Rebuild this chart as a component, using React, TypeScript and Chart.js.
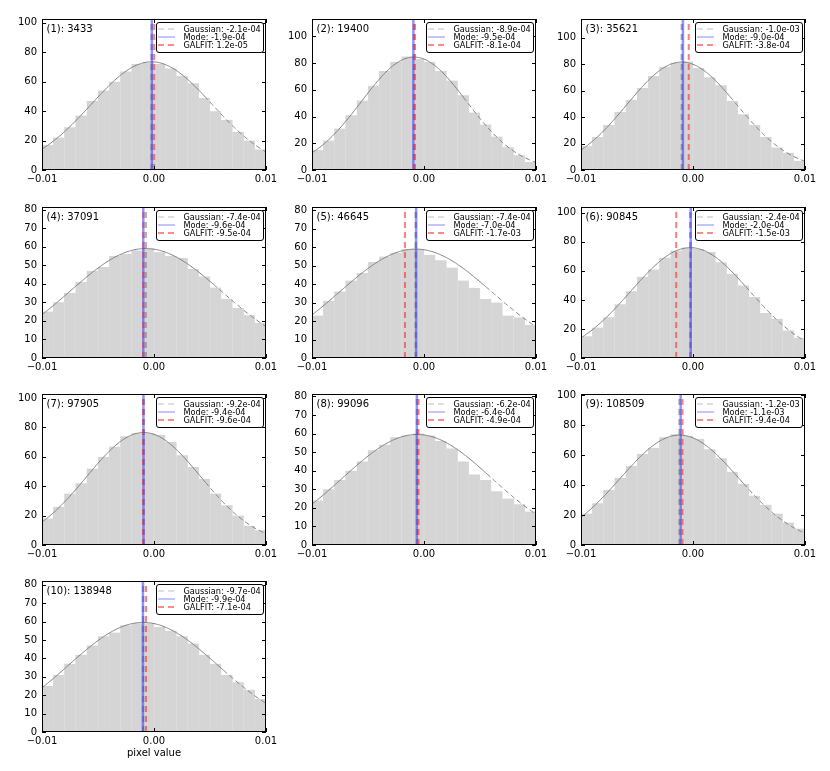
import { useEffect, useRef } from "react";
import { Chart, registerables } from "chart.js";

Chart.register(...registerables);

// Histogram bins (centres), identical in every panel
const BIN_CENTERS = [
  -0.0095, -0.0085, -0.0075, -0.0065, -0.0055, -0.0045, -0.0035, -0.0025, -0.0015, -0.0005,
  0.0005, 0.0015, 0.0025, 0.0035, 0.0045, 0.0055, 0.0065, 0.0075, 0.0085, 0.0095,
];

const PANEL_IDS = [3433, 19400, 35621, 37091, 46645, 90845, 97905, 99096, 108509, 138948];

// counts per bin
const COUNTS_1 = [17, 22, 29, 37, 47, 54, 60, 67, 72, 73, 72, 69, 64, 59, 49, 40, 34, 26, 20, 14];
const COUNTS_2 = [15, 22, 31, 41, 52, 63, 74, 81, 85, 83, 81, 74, 67, 56, 43, 34, 25, 17, 11, 6];
const COUNTS_3 = [18, 25, 34, 44, 53, 62, 71, 78, 81, 82, 77, 70, 64, 52, 42, 34, 25, 17, 13, 7];
const COUNTS_4 = [25, 30, 35, 41, 47, 49, 55, 56, 58, 59, 57, 55, 54, 48, 44, 38, 32, 27, 23, 19];
const COUNTS_5 = [23, 31, 36, 42, 46, 52, 55, 57, 59, 59, 56, 53, 49, 42, 38, 32, 30, 23, 22, 18];
const COUNTS_6 = [15, 21, 28, 37, 46, 56, 61, 69, 74, 76, 75, 73, 66, 58, 50, 42, 31, 27, 19, 14];
const COUNTS_7 = [18, 26, 35, 42, 52, 60, 67, 74, 76, 76, 75, 70, 61, 53, 45, 35, 27, 20, 13, 10];
const COUNTS_8 = [24, 30, 35, 40, 45, 51, 54, 58, 59, 60, 59, 56, 52, 45, 38, 35, 29, 25, 22, 18];
const COUNTS_9 = [21, 28, 37, 45, 53, 61, 65, 72, 74, 73, 71, 64, 58, 49, 41, 33, 27, 21, 15, 11];
const COUNTS_10 = [25, 31, 37, 42, 47, 52, 54, 58, 59, 59, 57, 55, 52, 48, 42, 37, 31, 27, 23, 18];
const COUNTS = [COUNTS_1, COUNTS_2, COUNTS_3, COUNTS_4, COUNTS_5, COUNTS_6, COUNTS_7, COUNTS_8, COUNTS_9, COUNTS_10];

// sky estimates shown in the legends
const GAUSS_MEAN = [-2.1e-4, -8.9e-4, -1.0e-3, -7.4e-4, -7.4e-4, -2.4e-4, -9.2e-4, -6.2e-4, -1.2e-3, -9.7e-4];
const MODE_VAL = [-1.9e-4, -9.5e-4, -9.0e-4, -9.6e-4, -7.0e-4, -2.0e-4, -9.4e-4, -6.4e-4, -1.1e-3, -9.9e-4];
const GALFIT_VAL = [1.2e-5, -8.1e-4, -3.8e-4, -9.5e-4, -1.7e-3, -1.5e-3, -9.6e-4, -4.9e-4, -9.4e-4, -7.1e-4];

// fitted gaussian model: peak height, width, upper edge of the fitted range
const GAUSS_PEAK = [73.5, 84.5, 81.5, 59, 59, 76, 76.5, 59.5, 73.5, 59.5];
const GAUSS_SIGMA = [0.0054, 0.0047, 0.0049, 0.0068, 0.0068, 0.0053, 0.0051, 0.00665, 0.0053, 0.0067];
const FIT_EDGE = [0.0045, 0.0035, 0.0033, 0.0053, 0.0055, 0.0047, 0.0046, 0.0056, 0.0045, 0.0062];

// axes
const X_TICKS = [-0.01, 0, 0.01];
const X_TICK_LABELS = ["\u22120.01", "0.00", "0.01"];
const Y_MAX = [102.6, 113, 114, 81.4, 81.8, 104, 102.7, 81.3, 101, 82];
const Y_STEP = [20, 20, 20, 10, 10, 20, 20, 10, 20, 10];
const Y_TICK_TOP = [100, 100, 100, 80, 80, 100, 100, 80, 100, 80];
const X_TITLE = "pixel value";

const FONT = "DejaVu Sans";
const COL_LEFT = [42, 312, 581];
const ROW_TOP = [16, 204, 391, 578];
const PLOT_W = 224;
const PLOT_H = 154;
const PAD_L = 40;
const PAD_T = 8;
const PAD_R = 16;

const STYLE = {
  gauss: { color: "rgba(128,128,128,0.6)", width: 2.5, dash: [6, 4] },
  mode: { color: "rgba(40,40,255,0.5)", width: 2.5, dash: [] as number[] },
  galfit: { color: "rgba(255,40,40,0.6)", width: 2, dash: [6, 4] },
};

const LEGEND_STYLE = [
  { name: "Gaussian", color: "rgba(128,128,128,0.5)", width: 1, dash: [6, 4] },
  { name: "Mode", color: "rgba(60,60,255,0.6)", width: 1, dash: [] as number[] },
  { name: "GALFIT", color: "rgba(255,60,60,0.6)", width: 2, dash: [6, 4] },
];

function sci(v: number) {
  const [m, e] = v.toExponential(1).split("e");
  const n = parseInt(e, 10);
  return `${m}e${n < 0 ? "-" : "+"}${String(Math.abs(n)).padStart(2, "0")}`;
}

function Panel({ idx }: { idx: number }) {
  const ref = useRef<HTMLCanvasElement | null>(null);
  const xH = idx === 9 ? 27 : 22;
  const W = PAD_L + PLOT_W + PAD_R;
  const H = PAD_T + PLOT_H + xH;

  useEffect(() => {
    if (!ref.current) return;
    const ctx = ref.current.getContext("2d");
    if (!ctx) return;

    const yMax = Y_MAX[idx];
    const gauss = (x: number) =>
      GAUSS_PEAK[idx] * Math.exp(-((x - GAUSS_MEAN[idx]) ** 2) / (2 * GAUSS_SIGMA[idx] ** 2));
    // model curve sampled along the axis
    const xs: number[] = [];
    for (let k = 0; k <= 200; k++) xs.push(-0.01 + k * 0.0001);
    const edge = FIT_EDGE[idx];
    const solid = xs.filter((x) => x < edge).map((x) => ({ x, y: gauss(x) }));
    solid.push({ x: edge, y: gauss(edge) });
    const dashed = [{ x: edge, y: gauss(edge) }, ...xs.filter((x) => x > edge).map((x) => ({ x, y: gauss(x) }))];

    const vline = (v: number, s: { color: string; width: number; dash: number[] }, order: number) => ({
      type: "line" as const,
      data: [
        { x: v, y: 0 },
        { x: v, y: yMax },
      ],
      borderColor: s.color,
      borderWidth: s.width,
      borderDash: s.dash,
      pointRadius: 0,
      order,
    });

    const legendValues = [GAUSS_MEAN[idx], MODE_VAL[idx], GALFIT_VAL[idx]];

    const decor = {
      id: "decor",
      afterDraw(c: Chart) {
        const g = c.ctx;
        const a = c.chartArea;
        const xs_ = c.scales.x;
        const ys_ = c.scales.y;
        g.save();
        g.strokeStyle = "#000";
        g.lineWidth = 1;
        g.setLineDash([]);
        g.beginPath();
        for (const t of ys_.ticks) {
          const py = Math.round(ys_.getPixelForValue(t.value)) + 0.5;
          g.moveTo(a.left, py);
          g.lineTo(a.left + 4, py);
          g.moveTo(a.right - 4, py);
          g.lineTo(a.right, py);
        }
        for (const t of xs_.ticks) {
          const px = Math.round(xs_.getPixelForValue(t.value)) + 0.5;
          g.moveTo(px, a.bottom);
          g.lineTo(px, a.bottom - 4);
          g.moveTo(px, a.top);
          g.lineTo(px, a.top + 4);
        }
        g.stroke();
        g.strokeRect(a.left + 0.5, a.top + 0.5, a.right - a.left - 1, a.bottom - a.top - 1);

        // panel title
        g.fillStyle = "#000";
        g.font = `10px "${FONT}"`;
        g.textAlign = "left";
        g.textBaseline = "middle";
        g.fillText(`(${idx + 1}): ${PANEL_IDS[idx]}`, a.left + 4.5, a.top + 10);

        // legend
        g.font = `8.2px "${FONT}"`;
        const texts = LEGEND_STYLE.map((l, k) => `${l.name}: ${sci(legendValues[k])}`);
        const tw = Math.max(...texts.map((t) => g.measureText(t).width));
        const lw = Math.round(30 + tw);
        const lx = Math.round(a.right - 3.5 - lw) + 0.5;
        const ly = a.top + 3.5;
        const lh = 30;
        g.fillStyle = "#fff";
        g.beginPath();
        g.roundRect(lx, ly, lw, lh, 2.5);
        g.fill();
        g.strokeStyle = "#000";
        g.lineWidth = 1;
        g.stroke();
        const rows = [6.5, 14.5, 22.5];
        LEGEND_STYLE.forEach((l, k) => {
          const yy = ly + rows[k];
          g.beginPath();
          g.strokeStyle = l.color;
          g.lineWidth = l.width;
          g.setLineDash(l.dash);
          g.moveTo(lx + 1.5, yy);
          g.lineTo(lx + 18.5, yy);
          g.stroke();
          g.setLineDash([]);
          g.fillStyle = "#000";
          g.fillText(texts[k], lx + 27, yy + 0.5);
        });
        g.restore();
      },
    };

    const chart = new Chart(ctx, {
      type: "bar",
      data: {
        datasets: [
          {
            type: "bar",
            data: BIN_CENTERS.map((x, k) => ({ x, y: COUNTS[idx][k] })),
            backgroundColor: "rgb(213,213,213)",
            borderColor: "rgb(222,222,222)",
            borderWidth: { left: 0.5, right: 0.5, top: 0, bottom: 0 },
            borderSkipped: false,
            barPercentage: 1,
            categoryPercentage: 1,
            order: 10,
          },
          {
            type: "line",
            data: solid,
            borderColor: "rgb(128,128,128)",
            borderWidth: 1,
            pointRadius: 0,
            order: 6,
          },
          {
            type: "line",
            data: dashed,
            borderColor: "rgb(128,128,128)",
            borderWidth: 1,
            borderDash: [5, 3],
            pointRadius: 0,
            order: 5,
          },
          vline(GAUSS_MEAN[idx], STYLE.gauss, 3),
          vline(MODE_VAL[idx], STYLE.mode, 2),
          vline(GALFIT_VAL[idx], STYLE.galfit, 1),
        ] as any,
      },
      options: {
        animation: false,
        responsive: false,
        events: [],
        layout: { padding: { left: 0, right: PAD_R, top: PAD_T, bottom: 0 } },
        plugins: { legend: { display: false }, tooltip: { enabled: false } },
        scales: {
          x: {
            type: "linear",
            min: -0.01,
            max: 0.01,
            offset: false,
            grid: { display: false, drawTicks: false },
            border: { display: false },
            afterBuildTicks: (s: any) => {
              s.ticks = X_TICKS.map((value) => ({ value }));
            },
            afterFit: (s: any) => {
              s.height = xH;
            },
            ticks: {
              padding: 3,
              color: "#000",
              font: { family: FONT, size: 10 },
              maxRotation: 0,
              callback: (v: any) => X_TICK_LABELS[X_TICKS.indexOf(Number(v))] ?? "",
            },
            title: {
              display: idx === 9,
              text: X_TITLE,
              color: "#000",
              font: { family: FONT, size: 10 },
              padding: 0,
            },
          },
          y: {
            min: 0,
            max: yMax,
            grid: { display: false, drawTicks: false },
            border: { display: false },
            afterBuildTicks: (s: any) => {
              const t: { value: number }[] = [];
              for (let v = 0; v <= Y_TICK_TOP[idx]; v += Y_STEP[idx]) t.push({ value: v });
              s.ticks = t;
            },
            afterFit: (s: any) => {
              s.width = PAD_L;
            },
            ticks: {
              padding: 5,
              color: "#000",
              font: { family: FONT, size: 10 },
            },
          },
        },
      },
      plugins: [decor],
    });

    return () => chart.destroy();
  }, [idx]);

  return (
    <canvas
      ref={ref}
      width={W}
      height={H}
      style={{
        position: "absolute",
        left: COL_LEFT[idx % 3] - PAD_L,
        top: ROW_TOP[Math.floor(idx / 3)] - PAD_T,
        width: W,
        height: H,
      }}
    />
  );
}

export default function App() {
  return (
    <div style={{ position: "absolute", left: 0, top: 0, width: 830, height: 771, background: "#fff" }}>
      {PANEL_IDS.map((_, i) => (
        <Panel key={i} idx={i} />
      ))}
    </div>
  );
}
